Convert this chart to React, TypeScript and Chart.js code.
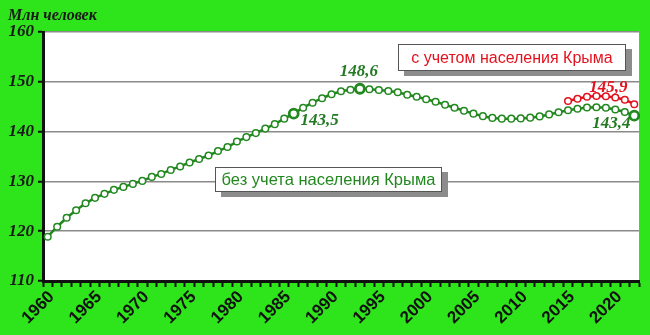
import React, { useEffect, useRef } from "react";
import { Chart, registerables } from "chart.js";

Chart.register(...registerables);

const years: number[] = [
  1960, 1961, 1962, 1963, 1964, 1965, 1966, 1967, 1968, 1969,
  1970, 1971, 1972, 1973, 1974, 1975, 1976, 1977, 1978, 1979,
  1980, 1981, 1982, 1983, 1984, 1985, 1986, 1987, 1988, 1989,
  1990, 1991, 1992, 1993, 1994, 1995, 1996, 1997, 1998, 1999,
  2000, 2001, 2002, 2003, 2004, 2005, 2006, 2007, 2008, 2009,
  2010, 2011, 2012, 2013, 2014, 2015, 2016, 2017, 2018, 2019,
  2020, 2021, 2022,
];

// без учета населения Крыма (млн человек)
const withoutCrimea: number[] = [
  118.9, 120.9, 122.7, 124.2, 125.6, 126.7, 127.5, 128.3, 128.9, 129.5,
  130.1, 130.9, 131.5, 132.3, 133.0, 133.8, 134.5, 135.2, 136.1, 136.9,
  138.0, 138.9, 139.7, 140.6, 141.5, 142.6, 143.6, 144.8, 145.8, 146.7,
  147.5, 148.1, 148.4, 148.6, 148.5, 148.35, 148.15, 147.9, 147.4, 147.0,
  146.5, 146.0, 145.4, 144.8, 144.2, 143.6, 143.1, 142.75, 142.6, 142.6,
  142.65, 142.8, 143.05, 143.45, 143.9, 144.3, 144.6, 144.85, 144.9, 144.8,
  144.45, 143.95, 143.2,
];

// с учетом населения Крыма
const crimeaYears: number[] = [2015, 2016, 2017, 2018, 2019, 2020, 2021, 2022];
const withCrimea: number[] = [146.15, 146.6, 147.0, 147.15, 147.1, 146.85, 146.4, 145.5];

const highlightYears: number[] = [1986, 1993, 2022];

const yTicks: number[] = [110, 120, 130, 140, 150, 160];

const GREEN = "#22881f";
const GREEN_TEXT = "#237a22";
const RED = "#e3121f";
const BG = "#2ee41a";

type Note = { text: string; series: "green" | "red"; year: number; dx: number; dy: number; color: string };
const notes: Note[] = [
  { text: "148,6", series: "green", year: 1993, dx: -1, dy: -17, color: GREEN_TEXT },
  { text: "143,5", series: "green", year: 1986, dx: 26, dy: 7, color: GREEN_TEXT },
  { text: "145,9", series: "red", year: 2020, dx: -7, dy: -10, color: RED },
  { text: "143,4", series: "green", year: 2022, dx: -23, dy: 8, color: GREEN_TEXT },
];

type Box = { text: string; x: number; y: number; w: number; h: number; color: string; size: number };
const boxes: Box[] = [
  { text: "с учетом населения Крыма", x: 398, y: 44, w: 228, h: 27, color: RED, size: 16 },
  { text: "без учета населения Крыма", x: 215, y: 167, w: 227, h: 25, color: GREEN, size: 16.5 },
];

const decorPlugin = {
  id: "decor",
  beforeDraw(chart: any) {
    const { ctx, chartArea } = chart;
    ctx.save();
    ctx.fillStyle = BG;
    ctx.fillRect(0, 0, chart.width, chart.height);
    ctx.fillStyle = "#ffffff";
    ctx.fillRect(chartArea.left, chartArea.top, chartArea.right - chartArea.left, chartArea.bottom - chartArea.top);
    ctx.restore();
  },
  afterDraw(chart: any) {
    const { ctx } = chart;
    const xs = chart.scales.x;
    const ys = chart.scales.y;
    ctx.save();
    // title
    ctx.fillStyle = "#1a1a1a";
    ctx.font = "bold italic 16px 'Liberation Serif', 'Times New Roman', serif";
    ctx.textAlign = "left";
    ctx.textBaseline = "alphabetic";
    ctx.fillText("Млн человек", 8, 20);

    // value notes
    ctx.font = "bold italic 17px 'Liberation Serif', 'Times New Roman', serif";
    ctx.textAlign = "center";
    ctx.textBaseline = "middle";
    notes.forEach((n) => {
      let v: number;
      if (n.series === "green") v = withoutCrimea[years.indexOf(n.year)];
      else v = withCrimea[crimeaYears.indexOf(n.year)];
      const px = xs.getPixelForValue(years.indexOf(n.year));
      const py = ys.getPixelForValue(v);
      ctx.fillStyle = n.color;
      ctx.fillText(n.text, px + n.dx, py + n.dy);
    });

    // legend boxes
    boxes.forEach((b) => {
      ctx.fillStyle = "#8c8c8c";
      ctx.fillRect(b.x + 6, b.y + 5, b.w, b.h);
      ctx.fillStyle = "#ffffff";
      ctx.fillRect(b.x, b.y, b.w, b.h);
      ctx.strokeStyle = "#555555";
      ctx.lineWidth = 1;
      ctx.strokeRect(b.x + 0.5, b.y + 0.5, b.w - 1, b.h - 1);
      ctx.fillStyle = b.color;
      ctx.font = `${b.size}px 'Liberation Sans', Arial, sans-serif`;
      ctx.textAlign = "center";
      ctx.textBaseline = "middle";
      ctx.fillText(b.text, b.x + b.w / 2, b.y + b.h / 2 + 1);
    });
    ctx.restore();
  },
};

export default function App() {
  const ref = useRef<HTMLCanvasElement | null>(null);

  useEffect(() => {
    document.body.style.margin = "0";
    const canvas = ref.current;
    if (!canvas) return;
    const labels = years.map((y) => String(y));
    const isBig = (yr: number) => highlightYears.indexOf(yr) >= 0;

    const chart = new Chart(canvas, {
      type: "line",
      data: {
        labels,
        datasets: [
          {
            label: "без учета населения Крыма",
            data: withoutCrimea,
            borderColor: GREEN,
            backgroundColor: "#ffffff",
            borderWidth: 2.5,
            pointBackgroundColor: "#ffffff",
            pointBorderColor: GREEN,
            pointRadius: (c: any) => (isBig(years[c.dataIndex]) ? 4.5 : 3.3),
            pointBorderWidth: (c: any) => (isBig(years[c.dataIndex]) ? 2.8 : 1.5),
            tension: 0,
            order: 2,
          },
          {
            label: "с учетом населения Крыма",
            data: crimeaYears.map((y, i) => ({ x: String(y), y: withCrimea[i] })),
            borderColor: RED,
            backgroundColor: "#ffffff",
            borderWidth: 2.5,
            pointBackgroundColor: "#ffffff",
            pointBorderColor: RED,
            pointRadius: 3.3,
            pointBorderWidth: 1.5,
            tension: 0,
            order: 1,
          },
        ] as any,
      },
      options: {
        responsive: false,
        animation: false,
        events: [],
        layout: { padding: { top: 32, right: 11, left: 0, bottom: 0 } },
        plugins: { legend: { display: false }, tooltip: { enabled: false }, title: { display: false } },
        scales: {
          x: {
            type: "category",
            offset: true,
            afterFit: (s: any) => {
              s.height = 54;
            },
            border: { display: true, color: "#111111", width: 3 },
            grid: {
              display: true,
              offset: true,
              drawOnChartArea: false,
              drawTicks: true,
              tickLength: 6,
              tickColor: "#111111",
              tickWidth: 2,
            },
            ticks: {
              autoSkip: false,
              minRotation: 45,
              maxRotation: 45,
              padding: 0,
              labelOffset: 4,
              color: "#111111",
              font: { family: "'Liberation Sans', Arial, sans-serif", size: 17, weight: "bold" },
              callback: (_v: any, i: number) => (years[i] % 5 === 0 ? String(years[i]) : ""),
            },
          },
          y: {
            min: 110,
            max: 160,
            afterFit: (s: any) => {
              s.width = 43;
            },
            afterBuildTicks: (s: any) => {
              s.ticks = yTicks.map((v) => ({ value: v }));
            },
            border: { display: true, color: "#111111", width: 3 },
            grid: {
              color: "#8a8a8a",
              lineWidth: 1.5,
              drawTicks: true,
              tickLength: 5,
              tickColor: "#111111",
              tickWidth: 2,
            },
            ticks: {
              padding: 4,
              color: "#1a1a1a",
              font: { family: "'Liberation Serif', 'Times New Roman', serif", size: 17, weight: "bold", style: "italic" },
            },
          },
        },
      } as any,
      plugins: [decorPlugin],
    });
    return () => chart.destroy();
  }, []);

  return <canvas ref={ref} width={650} height={335} style={{ display: "block" }} />;
}
